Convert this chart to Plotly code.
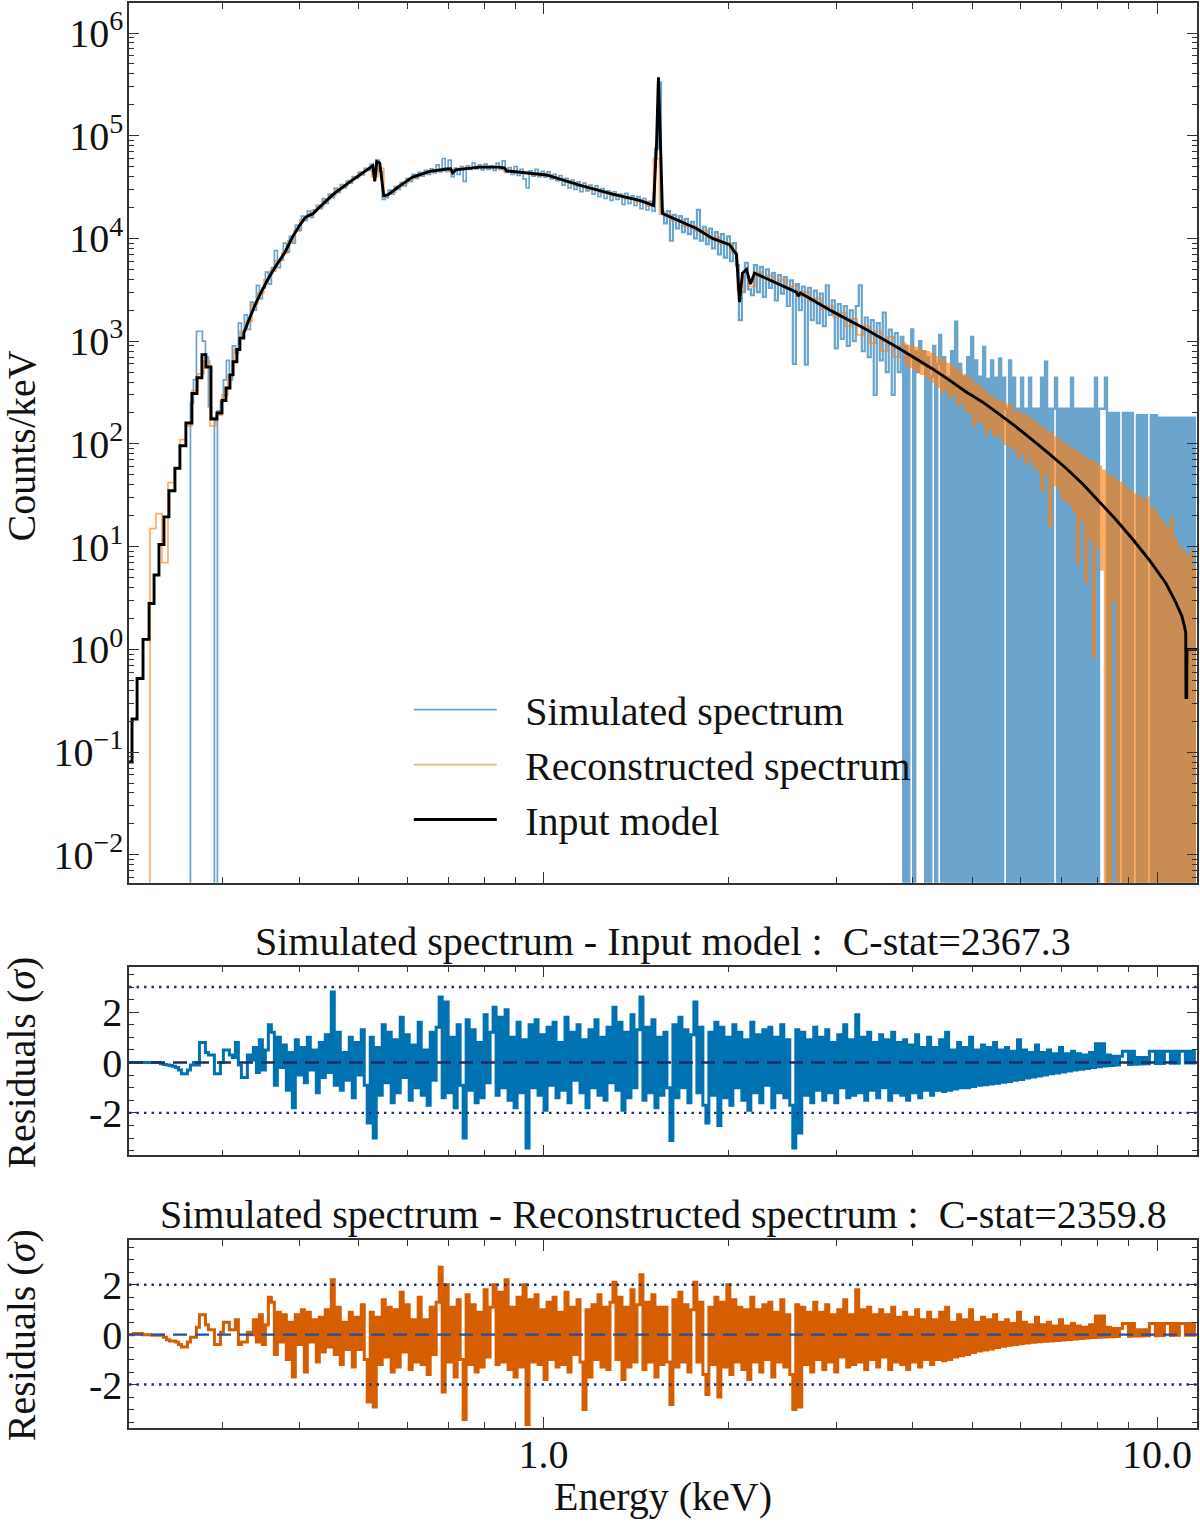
import numpy as np
import plotly.graph_objects as go

FONT = "Liberation Serif, DejaVu Serif, serif"
TXT = "#111111"
FLOOR = 1e-6  # zero-count bins (log axis) are drawn down to the bottom edge

# ------------------------------------------------------------------ data
# Input model, stepped low-energy part: bin edges (keV) and counts/keV
model_step_edges = [0.2109, 0.2133, 0.2174, 0.2223, 0.2274, 0.2317, 0.2360, 0.2405, 0.2450, 0.2506,
                    0.2553, 0.2611, 0.2671, 0.2722, 0.2773, 0.2815, 0.2869, 0.2934, 0.2990, 0.3035,
                    0.3081, 0.3116, 0.3162, 0.3198, 0.3245]
model_step_values = [0.08, 0.21, 0.52, 1.25, 2.8, 5.3, 10.5, 19.5, 35, 58, 96, 160, 310, 440, 740, 560,
                     175, 200, 265, 350, 470, 630, 830, 1070]
# Input model, smooth part
model_energy = [0.3245, 0.3320, 0.3396, 0.3473, 0.3552, 0.3660, 0.3786, 0.3902, 0.4005, 0.4080,
                0.4143, 0.4206, 0.4285, 0.4533, 0.4831, 0.5111, 0.5267, 0.5306, 0.5346, 0.5406,
                0.5488, 0.5571, 0.5828, 0.6116, 0.6521, 0.6950, 0.7055, 0.7109, 0.7189, 0.7866,
                0.8478, 0.8640, 0.8703, 1.0114, 1.144, 1.2955, 1.4337, 1.5109, 1.5276, 1.539,
                1.551, 1.5626, 1.775, 1.885, 2.009, 2.0627, 2.0861, 2.1097, 2.1416, 2.1739, 2.2067,
                2.583, 2.602, 2.622, 2.956, 3.358, 3.800, 4.04, 4.301, 4.58, 4.886, 5.20, 5.530,
                5.88, 6.256, 6.66, 7.108, 7.56, 8.045, 8.56, 9.107, 9.70, 10.34, 10.72, 10.98,
                11.08, 11.14, 11.15, 11.18, 11.19, 11.62]
model_values = [1200, 1700, 2350, 3100, 4000, 5400, 7300, 10500, 13500, 15800,
                16800, 17300, 19500, 26700, 35500, 45000, 51000, 36000, 56000, 54000,
                26000, 26500, 32500, 39500, 45000, 47500, 47800, 43500, 46500, 49500,
                49500, 48500, 45500, 41500, 33000, 27000, 23500, 21000, 80000, 370000,
                80000, 17500, 12500, 10000, 8700, 7000, 2400, 4600, 5000, 3600, 4600,
                3000, 2750, 2950, 1950, 1300, 850, 680, 540, 420, 320, 255, 195,
                148, 110, 81, 58, 41, 27.5, 18.5, 12, 7.5, 4.4, 2.9, 2.1,
                1.7, 1.45, 0.34, 0.34, 1.0, 1.0]

# channel grids (keV): low/mid band and high band
LOW_BAND = (0.2109, 3.843)
HIGH_BAND = (3.872, 11.57)
RES_BAND = (0.2109, 11.57)
NOISY_FROM = 175  # index in the low/mid band where the simulated spectrum gets noisy (~1.5 keV)

# Simulated spectrum (counts/keV), low/mid band
sim_low = [0] * 21 + [
    250, 420, 1250, 1250, 1000, 700, 230, 180, 0, 210,
    260, 420, 650, 420, 900, 760, 1500, 1100, 1800, 1300,
    2400, 2000, 3500, 2600, 3300, 4700, 3600, 5200, 7600, 5200,
    6200, 9000, 7400, 10500, 9000, 13500, 12000, 16500, 15000, 18500,
    16000, 19000, 21000, 19500, 24500, 22000, 27000, 25000, 31000, 28000,
    33500, 31000, 36000, 34500, 40000, 38500, 44000, 41500, 48000, 46000,
    53000, 42000, 58000, 45000, 24000, 25000, 29500, 27000, 32000, 30000,
    35000, 32500, 38500, 36000, 42000, 38500, 44000, 40500, 46000, 42000,
    47500, 43500, 52000, 44500, 60000, 45000, 58000, 40000, 48500, 42000,
    50000, 36000, 51000, 47000, 54000, 47500, 52000, 46500, 53000, 47000,
    51000, 46000, 54000, 47000, 57000, 44000, 49000, 42000, 50000, 41000,
    47000, 38000, 31000, 45500, 40500, 47000, 40000, 45000, 39500, 44500,
    38000, 42000, 36500, 41000, 33000, 38500, 31000, 37000, 30000, 35500,
    28500, 34500, 29000, 33000, 27000, 32500, 25500, 30500, 24500, 29000,
    23500, 28500, 24000, 27000, 21500, 27500, 22000, 26000, 21000, 25500,
    19500, 24500, 19000, 23000, 18500, 75000, 330000, 18000, 14000, 18500,
    9500, 17000, 12500, 16500, 11500, 15500, 11000, 14500, 10000, 19000,
    9500, 13000, 8800, 12500, 8000, 11500, 7000, 11000, 6500, 10500,
    6000, 9000, 5500, 1600, 3000, 5800, 3200, 2800, 5500, 3000,
    5300, 2700, 5000, 3300, 4600, 2500, 4400, 2900, 4200, 2200,
    3900, 600, 3600, 2000, 3400, 590, 3300, 1600, 3100, 1500,
    2900, 1400, 3500, 1800, 2500, 850, 2300, 1050, 2200, 900,
    2000, 1000, 2200, 3500, 800, 1700, 700, 1600, 300, 1500,
    650, 1900, 500, 1300, 300, 1200, 500, 1100]
# Simulated spectrum, high band
sim_high = [
    0, 900, 0, 700, 1300, 0, 800, 500, 1000, 600,
    800, 0, 700, 0, 450, 900, 0, 600, 1150, 0,
    700, 0, 450, 0, 800, 0, 1550, 0, 600, 0,
    450, 0, 700, 0, 1100, 0, 650, 0, 450, 0,
    880, 0, 430, 0, 650, 0, 440, 0, 680, 0,
    440, 220, 0, 650, 0, 440, 0, 220, 0, 440,
    0, 220, 0, 440, 0, 220, 0, 220, 0, 440,
    0, 630, 0, 220, 0, 220, 440, 0, 220, 0,
    220, 0, 220, 0, 440, 0, 220, 0, 220, 0,
    220, 0, 220, 0, 220, 0, 440, 0, 220, 220,
    220, 440, 0, 200, 0, 200, 0, 200, 0, 0,
    200, 0, 200, 0, 200, 0, 0, 190, 0, 190,
    0, 190, 0, 0, 190, 0, 190, 0, 180, 0,
    180, 0, 180, 0, 180, 0, 180, 0, 180, 0,
    180, 0, 180, 0, 180, 0, 180]

# Reconstructed spectrum (counts/keV), low/mid band
rec_low = [
    0, 0, 0, 0, 15, 21, 7, 42, 58, 110,
    150, 330, 480, 640, 150, 190, 300, 470, 830, 1250,
    1550, 2300, 2950, 3950, 4800, 6100, 7200, 9500, 11800, 15100,
    16600, 18700, 20500, 23900, 26300, 30200, 32400, 36500, 39500, 44500,
    47500, 40000, 48000, 26800, 28300, 32000, 34200, 38100, 40000, 42900,
    43600, 46100, 46300, 48000, 44500, 46800, 48700, 48500, 49900, 49000,
    50000, 48800, 49300, 45000, 45300, 43700, 44000, 42400, 42700, 41100,
    41500, 38700, 38000, 35500, 34900, 32500, 32300, 30100, 30000, 27900,
    27900, 26000, 26200, 24400, 24600, 22800, 22800, 20800, 60000, 17200,
    17000, 15000, 15000, 13200, 13300, 11800, 11900, 10200, 10300, 8900,
    9000, 7300, 3100, 4200, 3400, 4700, 4100, 4350, 3700, 3950,
    3300, 3450, 2750, 3000, 2450, 2600, 2050, 2200, 1700, 1900,
    1400, 1650, 1150, 1400, 950, 1250, 800, 1100, 700, 900]
# Reconstructed spectrum, high band
rec_high = [
    950, 600, 900, 560, 880, 540, 860, 500, 830, 480,
    800, 460, 780, 430, 750, 400, 700, 360, 660, 320,
    640, 330, 600, 280, 570, 300, 540, 240, 500, 250,
    470, 210, 440, 200, 420, 150, 380, 170, 360, 160,
    330, 125, 300, 140, 290, 120, 270, 125, 260, 110,
    250, 100, 240, 95, 230, 90, 200, 73, 200, 80,
    190, 65, 180, 70, 170, 60, 160, 55, 150, 35,
    140, 50, 130, 16, 125, 40, 115, 38, 110, 30,
    100, 28, 95, 26, 90, 22, 85, 7, 80, 18,
    75, 4.5, 70, 12, 68, 0.85, 65, 10, 60, 6,
    55, 0, 50, 0, 48, 3, 45, 0, 42, 0,
    40, 0, 36, 0, 34, 0, 32, 0, 30, 0,
    28, 0, 30, 0, 24, 0, 22, 0, 19, 0,
    17, 0, 15, 0, 19, 0, 12, 0, 10, 0,
    9, 0, 8, 0, 9, 0, 6]

# Residuals (sigma): simulated - input model
res_model = [
    0, 0, 0, 0, 0, 0, 0, 0, 0, 0, 0,
    -0.05, -0.08, -0.1, -0.12, -0.15, -0.2,
    -0.3, -0.45, -0.45, -0.3,
    -0.1, 0.0, -0.1,
    0.8, 0.8, 0.4, 0.3, 0.3, -0.45, -0.45, 0.0, 0.5, 0.5, 0.3, 0.2, 0.8, -0.1, -0.6, -0.6, 0.3, 0.1,
    0.6, -0.4, 0.9, -0.3, 0.5, 1.5, 1.2,
    -0.9, 1.0, -0.2, 0.7, -1.1, 0.4, -1.8,
    0.9, -0.5, 0.6, -0.8, 1.0, -0.3, 0.5, -1.2, 0.8, -0.6, 1.1, -0.4, 2.8,
    -0.9, 1.2, -1.1, 0.4, -0.7, 1.0, -1.4, 0.8, -0.5, 1.3, -0.9,
    -2.4, 1.0, -3.0, 0.6, -1.3,
    1.5, -0.8, 1.2, -1.6, 0.9, -1.2, 1.8, -0.6, 1.1, -1.5, 0.7, -1.0, 1.6, -1.3, 0.5, -1.7, 1.2, -0.7, 1.4,
    2.6, -1.4, 2.4, -1.2, 1.0, -1.8, 1.5, -0.9, -3.0,
    1.7, -1.1, 1.3, -1.6, 0.8, -1.4, 1.9, -0.8, 1.2,
    2.2, -1.3, 1.8, -1.0, 2.1, -1.5, 1.0, -1.8, 1.6, -1.2, 0.9, -3.4,
    1.5, -1.0, 1.7, -1.3, 1.1, -1.9, 1.4, -0.9, 1.6, -1.4, 0.8, -1.1, 1.8, -1.6,
    1.2, -0.7, 1.5, -1.2, 0.9, -1.8, 1.3, -1.0, 1.7, -1.3, 1.0, -1.5, 1.4, -0.8,
    2.2, -1.1, 1.6, -1.9, 1.2, -1.4, 1.9, -1.0, 1.3, 2.6,
    -1.5, 1.4, -1.2, 1.7, -1.8, 1.0, -1.3, 1.2, -1.0, -3.1,
    1.5, -1.4, 1.8, -1.0, 1.3, -1.6, 1.1, 2.4, -1.2, 1.4, -1.7, -2.4, 1.2, -1.3, 1.6, -2.5,
    1.4, -1.4, 1.0, -1.7, 1.5, -1.0, 1.2, -1.5, 0.9, -1.9, 1.6, -1.2,
    1.1, -1.6, 1.3, -0.9, 1.4, -1.8, 1.0, -1.2, 1.5, -1.4, 0.9, -1.7,
    -3.4, 1.3, -2.8,
    1.2, -1.3, 0.9, -1.6, 1.4, -1.1, 1.0, -1.5, 1.3, -1.2, 0.8, -1.6, 1.1, -1.0, 1.5, -1.4, 0.9, -1.3,
    1.9, -1.2,
    1.0, -1.5, 1.2, -1.1, 0.8, -1.4, 1.1, -1.0, 0.9, -1.5, 1.2, -1.2, 0.8,
    -1.3, 0.9, -1.5, 0.7, -1.2, 1.1, -1.4, 0.6, -1.1, 1.0,
    -1.3, 0.6, -1.1, 0.9, -1.15, 1.2, -1.1, 0.5, -1.05, 0.8,
    -1.0, 0.6, -1.0, 1.0, -0.95, 0.5, -0.9, 0.7, -0.88, 0.6,
    -0.85, 0.8, -0.82, 0.5, -0.78, 0.6, -0.75, 0.45, -0.7, 0.9,
    -0.67, 0.5, -0.62, 0.4, -0.58, 0.7, -0.54, 0.4, -0.5, 0.5,
    -0.45, 0.35, -0.42, 0.6, -0.38, 0.35, -0.34, 0.45, -0.3, 0.35,
    -0.27, 0.3, -0.24, 0.4, -0.2, 0.75, -0.17, 0.75, -0.14, 0.3,
    -0.12, 0.25, -0.1, 0.25, 0.45, 0.45, -0.08, 0.45, -0.07, 0.2,
    -0.06, 0.2, -0.05, 0.45, 0.45, -0.04, 0.45, -0.04, 0.45, 0.45,
    -0.03, 0.45, -0.03, 0.45, 0.45, -0.02, 0.45, -0.02, 0.45]

# Residuals (sigma): simulated - reconstructed
res_rec = [
    0, 0, 0.05, 0.05, 0.05, 0, 0, 0, -0.02, -0.02, -0.02,
    -0.02, -0.1, -0.2, -0.25, -0.25, -0.3,
    -0.4, -0.5, -0.5, -0.3,
    -0.1, -0.1, 0.3,
    0.8, 0.8, 0.4, 0.2, 0.2, -0.4, -0.4, 0.1, 0.5, 0.5, 0.2, 0.2, 0.6, -0.4, -0.3, -0.3, 0.1, 0.0,
    0.6, -0.3, 0.8, -0.4, 0.4, 1.5, 1.3,
    -0.8, 0.9, -0.3, 0.8, -1.0, 0.5, -1.7,
    0.8, -0.4, 1.0, -1.5, 0.9, -0.3, 0.6, -1.1, 0.7, -0.7, 1.0, -0.5, 2.2,
    -0.8, 1.1, -1.2, 0.5, -0.6, 0.9, -1.3, 0.7, -0.6, 1.2, -1.0,
    -2.7, 0.9, -2.9, 0.7, -1.2,
    1.4, -0.9, 1.1, -1.5, 1.0, -1.3, 1.7, -0.7, 1.2, -1.4, 0.6, -1.1, 1.5, -1.2, 0.6, -1.6, 1.1, -0.8, 1.3,
    2.7, -2.3, 2.0, -1.1, 1.1, -1.7, 1.4, -1.0, -3.4,
    1.6, -1.2, 1.2, -1.5, 0.9, -1.3, 1.8, -0.9, 1.1,
    2.0, -1.2, 1.7, -1.1, 2.2, -1.4, 1.1, -1.7, 1.5, -1.3, 2.0, -3.6,
    1.4, -1.1, 1.6, -1.2, 1.0, -1.8, 1.3, -1.0, 1.5, -1.3, 0.9, -1.2, 1.7, -1.5,
    1.1, -0.8, 1.4, -1.1, -3.0, 1.0, -1.7, 1.2, -1.0, 1.6, -1.3, 1.1, -1.4, 1.3,
    2.1, -1.0, 1.5, -1.8, 1.1, -1.3, 1.8, -1.1, 1.2, 2.4,
    -1.4, 1.3, -1.1, 1.6, -1.7, 1.1, -1.2, 1.1, -1.1, -2.8,
    1.4, -1.3, 1.7, -1.1, 1.2, -1.5, 1.0, 2.1, -1.1, 1.3, -1.6, -2.4, 1.1, -1.2, 1.5, -2.5,
    1.3, -1.3, 2.0, -1.6, 1.4, -1.1, 1.1, -1.4, 1.0, -1.8, 1.5, -1.1,
    1.0, -1.5, 1.2, -1.0, 1.3, -1.7, 0.9, -1.1, 1.4, -1.3, 0.8, -1.6,
    -3.0, 1.2, -2.9,
    1.1, -1.2, 0.9, -1.5, 1.3, -1.0, 0.9, -1.4, 1.2, -1.1, 0.8, -1.5, 1.0, -0.9, 1.4, -1.3, 0.8, -1.2,
    1.8, -1.1,
    1.0, -1.4, 1.1, -1.0, 0.8, -1.3, 1.0, -0.9, 0.8, -1.4, 1.1, -1.1, 0.7,
    -1.2, 0.9, -1.4, 0.7, -1.1, 1.0, -1.3, 0.6, -1.0, 0.9,
    -1.2, 0.6, -1.0, 0.9, -1.05, 1.1, -1.0, 0.5, -0.9, 0.8,
    -0.85, 0.6, -0.8, 1.0, -0.72, 0.5, -0.66, 0.7, -0.62, 0.6,
    -0.58, 0.8, -0.52, 0.5, -0.47, 0.6, -0.43, 0.45, -0.4, 0.9,
    -0.37, 0.5, -0.34, 0.4, -0.31, 0.7, -0.29, 0.4, -0.27, 0.5,
    -0.25, 0.35, -0.23, 0.6, -0.21, 0.35, -0.19, 0.45, -0.17, 0.35,
    -0.15, 0.3, -0.13, 0.4, -0.11, 0.75, -0.1, 0.75, -0.09, 0.3,
    -0.08, 0.25, -0.07, 0.25, 0.45, 0.45, -0.06, 0.45, -0.05, 0.2,
    -0.05, 0.2, -0.04, 0.45, 0.45, -0.04, 0.45, -0.03, 0.45, 0.45,
    -0.03, 0.45, -0.02, 0.45, 0.45, -0.02, 0.45, -0.02, 0.45]

titles = ["Simulated spectrum - Input model :  C-stat=2367.3",
          "Simulated spectrum - Reconstructed spectrum :  C-stat=2359.8"]
band_levels = [[3.0, -2.0], [2.0, -2.0]]
legend_names = ["Simulated spectrum", "Reconstructed spectrum", "Input model"]

# ------------------------------------------------------------------ build
e_low_sim = np.geomspace(*LOW_BAND, len(sim_low))
e_high_sim = np.geomspace(*HIGH_BAND, len(sim_high))
e_low_rec = np.geomspace(*LOW_BAND, len(rec_low))
e_high_rec = np.geomspace(*HIGH_BAND, len(rec_high))


def floor0(v):
    a = np.array(v, dtype=float)
    a[a <= 0] = FLOOR
    return a


mx, my = [], []
for i, v in enumerate(model_step_values):
    mx += [model_step_edges[i], model_step_edges[i + 1]]
    my += [v, v]
mx += model_energy
my += model_values

BLUE = "rgba(31,119,180,0.66)"
ORANGE = "rgba(255,127,14,0.64)"
PAD = "\u2002\u200a"  # gap between legend line and label

fig = go.Figure()
# simulated spectrum: quiet part, noisy part, sparse high-energy part
fig.add_trace(go.Scatter(x=e_low_sim[:NOISY_FROM + 1], y=floor0(sim_low[:NOISY_FROM + 1]), mode="lines",
                         name=PAD + legend_names[0], legendgroup="sim",
                         line=dict(color=BLUE, width=1.7, shape="hvh", simplify=False),
                         xaxis="x", yaxis="y"))
fig.add_trace(go.Scatter(x=e_low_sim[NOISY_FROM:], y=floor0(sim_low[NOISY_FROM:]), mode="lines",
                         showlegend=False, legendgroup="sim",
                         line=dict(color=BLUE, width=2.2, shape="hvh", simplify=False),
                         xaxis="x", yaxis="y"))
fig.add_trace(go.Scatter(x=np.concatenate([e_low_sim[-1:], e_high_sim]),
                         y=floor0(sim_low[-1:] + sim_high), mode="lines", showlegend=False,
                         legendgroup="sim",
                         line=dict(color=BLUE, width=2.4, shape="hvh", simplify=False),
                         xaxis="x", yaxis="y"))
fig.add_trace(go.Scatter(x=e_low_rec, y=floor0(rec_low), mode="lines", name=PAD + legend_names[1],
                         legendgroup="rec",
                         line=dict(color=ORANGE, width=1.7, shape="hvh", simplify=False),
                         xaxis="x", yaxis="y"))
fig.add_trace(go.Scatter(x=np.concatenate([e_low_rec[-1:], e_high_rec]),
                         y=floor0(rec_low[-1:] + rec_high), mode="lines", showlegend=False,
                         legendgroup="rec",
                         line=dict(color=ORANGE, width=2.3, shape="hvh", simplify=False),
                         xaxis="x", yaxis="y"))
fig.add_trace(go.Scatter(x=mx, y=my, mode="lines", name=PAD + legend_names[2],
                         line=dict(color="black", width=2.9, simplify=False),
                         xaxis="x", yaxis="y"))
fig.add_trace(go.Scatter(x=np.geomspace(*RES_BAND, len(res_model)), y=res_model, mode="lines",
                         showlegend=False,
                         line=dict(color="#0072B2", width=3.0, shape="hvh", simplify=False),
                         xaxis="x2", yaxis="y2"))
fig.add_trace(go.Scatter(x=np.geomspace(*RES_BAND, len(res_rec)), y=res_rec, mode="lines",
                         showlegend=False,
                         line=dict(color="#D55E00", width=3.0, shape="hvh", simplify=False),
                         xaxis="x3", yaxis="y3"))

# reference lines in residual panels
dash_cols = ["rgb(30,45,100)", "rgb(40,78,155)"]
for n, (yname, levels) in enumerate(zip(["y2", "y3"], band_levels)):
    xname = "x2" if yname == "y2" else "x3"
    fig.add_shape(type="line", xref=f"{xname} domain", yref=yname, x0=0, x1=1, y0=0, y1=0,
                  line=dict(color=dash_cols[n], width=2.4, dash="14px,8px"), layer="above")
    for lv in levels:
        fig.add_shape(type="line", xref=f"{xname} domain", yref=yname, x0=0, x1=1, y0=lv, y1=lv,
                      line=dict(color="rgb(30,50,115)", width=2.4, dash="2.5px,5px"), layer="above")

# ------------------------------------------------------------------ axes
xr = [np.log10(0.2109), np.log10(11.62)]
x_minor = [m * 10.0 ** d for d in (-1, 0) for m in range(2, 10)]
tickfont = dict(family=FONT, size=40, color=TXT)
frame = dict(showline=True, linecolor="#333", linewidth=1.5, mirror="ticks", ticks="inside",
             tickcolor="#333", showgrid=False, zeroline=False, tickfont=tickfont)


def xax(anchor, labels):
    return dict(type="log", range=xr, domain=[0, 1], anchor=anchor, tickvals=[1, 10],
                ticktext=["1.0", "10.0"], ticklen=11, tickwidth=1.4, showticklabels=labels,
                ticklabelstandoff=-10,
                minor=dict(tickvals=x_minor, ticks="inside", ticklen=6, tickwidth=1.2, tickcolor="#333"),
                **frame)


y_major = [10.0 ** p for p in range(-2, 7)]
y_text = [f"10<sup>{'−' if p < 0 else ''}{abs(p)}</sup>" for p in range(-2, 7)]
y_minor = [m * 10.0 ** p for p in range(-3, 7) for m in range(2, 10)]
res_minor = [v / 2 for v in range(-8, 9)]


def resax(dom, rng, anchor):
    return dict(domain=dom, range=rng, anchor=anchor, tickvals=[-2, 0, 2], ticktext=["-2", "0", "2"],
                ticklen=10, tickwidth=1.4, ticklabelstandoff=-3,
                minor=dict(tickvals=res_minor, ticks="inside", ticklen=5, tickwidth=1.2, tickcolor="#333"),
                **frame)


fig.update_layout(
    width=1200, height=1522,
    margin=dict(l=129, r=2, t=1, b=94),
    paper_bgcolor="white", plot_bgcolor="white",
    font=dict(family=FONT, color=TXT, size=40),
    xaxis=xax("y", False),
    xaxis2=xax("y2", False),
    xaxis3=xax("y3", True),
    yaxis=dict(type="log", domain=[0.38262, 1.0], range=[-2.272, 6.292], anchor="x",
               tickvals=y_major, ticktext=y_text, ticklen=10, tickwidth=1.4, ticklabelstandoff=-4,
               minor=dict(tickvals=y_minor, ticks="inside", ticklen=5, tickwidth=1.2, tickcolor="#333"),
               **frame),
    yaxis2=resax([0.19131, 0.32376], [-3.69, 3.81], "x2"),
    yaxis3=resax([0.0, 0.13174], [-3.74, 3.78], "x3"),
    showlegend=True,
    legend=dict(x=0.262, y=0.527, xanchor="left", yanchor="top", bgcolor="rgba(0,0,0,0)",
                font=dict(family=FONT, size=40, color=TXT), itemwidth=83, tracegroupgap=0),
)

ann = dict(xref="paper", yref="paper", showarrow=False, font=dict(family=FONT, size=40, color=TXT))
fig.add_annotation(text=titles[0], x=0.5, y=0.3413, xanchor="center", yanchor="middle", **ann)
fig.add_annotation(text=titles[1], x=0.5, y=0.1500, xanchor="center", yanchor="middle", **ann)
fig.add_annotation(text="Counts/keV", x=-0.1010, y=0.6889, textangle=-90, xanchor="center",
                   yanchor="middle", **ann)
fig.add_annotation(text="Residuals (<i>σ</i>)", x=-0.1010, y=0.2565, textangle=-90, xanchor="center",
                   yanchor="middle", **ann)
fig.add_annotation(text="Residuals (<i>σ</i>)", x=-0.1010, y=0.0652, textangle=-90, xanchor="center",
                   yanchor="middle", **ann)
fig.add_annotation(text="Energy (keV)", x=0.5, y=-0.0484, xanchor="center", yanchor="middle", **ann)

fig.write_html("out.html")
